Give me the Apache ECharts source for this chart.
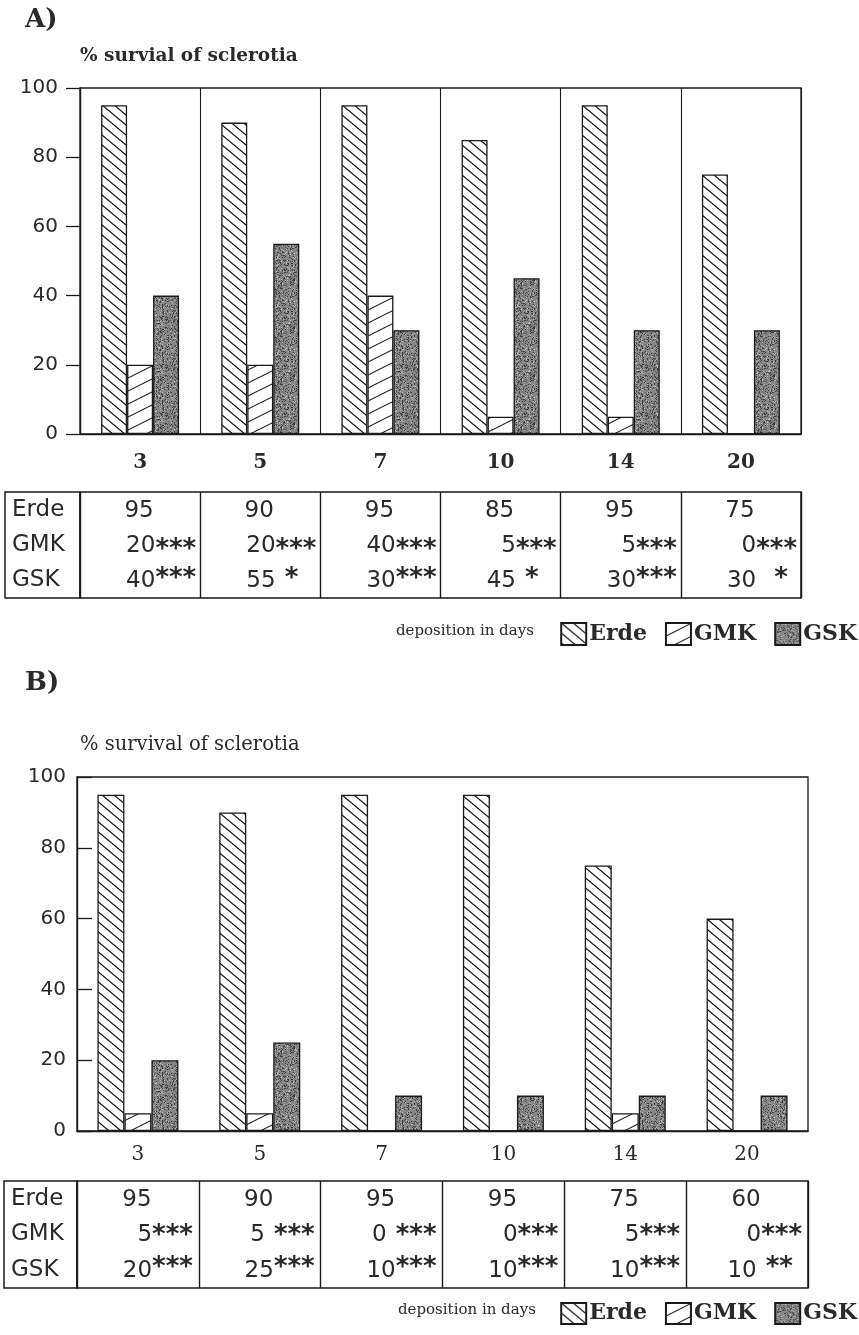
<!DOCTYPE html>
<html>
<head>
<meta charset="utf-8">
<script src="https://cdn.jsdelivr.net/npm/echarts@6/dist/echarts.min.js"></script>
<style>
html,body{margin:0;padding:0;background:#fff;}
#chart{width:859px;height:1335px;}
</style>
</head>
<body>
<div id="chart"></div>
<script>
// ---------------- data ----------------
const categories = ['3', '5', '7', '10', '14', '20'];
const rowNames = ['Erde', 'GMK', 'GSK'];
const yTickMin = 0, yTickMax = 100, yTickStep = 20;

const erdeA = [95, 90, 95, 85, 95, 75];
const gmkA  = [20, 20, 40, 5, 5, 0];
const gskA  = [40, 55, 30, 45, 30, 30];
const gmkSigA = ['***', '***', '***', '***', '***', '***'];
const gskSigA = ['***', ' *  ', '***', ' *  ', '***', '  * '];

const erdeB = [95, 90, 95, 95, 75, 60];
const gmkB  = [5, 5, 0, 0, 5, 0];
const gskB  = [20, 25, 10, 10, 10, 10];
const gmkSigB = ['***', ' ***', ' ***', '***', '***', '***'];
const gskSigB = ['***', '***', '***', '***', '***', ' ** '];

// ---------------- patterns ----------------
function hatch(w, h, dir, lw) {
  const c = document.createElement('canvas');
  c.width = w; c.height = h;
  const ctx = c.getContext('2d');
  ctx.fillStyle = '#ffffff';
  ctx.fillRect(0, 0, w, h);
  ctx.strokeStyle = '#151515';
  ctx.lineWidth = lw;
  for (const x0 of [-w, 0, w]) {
    ctx.beginPath();
    if (dir === 'back') {
      ctx.moveTo(x0 - w, -h); ctx.lineTo(x0 + 2 * w, 2 * h);
    } else {
      ctx.moveTo(x0 - w, 2 * h); ctx.lineTo(x0 + 2 * w, -h);
    }
    ctx.stroke();
  }
  return c;
}
function speckle(base) {
  const s = 48;
  const c = document.createElement('canvas');
  c.width = s; c.height = s;
  const ctx = c.getContext('2d');
  ctx.fillStyle = base;
  ctx.fillRect(0, 0, s, s);
  let seed = 12345;
  const next = () => { seed = (seed * 1103515245 + 12345) & 0x7fffffff; return seed / 0x7fffffff; };
  for (let i = 0; i < 1000; i++) {
    const x = Math.floor(next() * s), y = Math.floor(next() * s);
    const t = next();
    ctx.fillStyle = t < 0.45 ? '#3e3e3e' : (t < 0.7 ? '#5e5e5e' : '#b8b8b8');
    ctx.fillRect(x, y, 1, 1);
  }
  return c;
}
const erdePat = { image: hatch(12, 10, 'back', 1.3), repeat: 'repeat' };
const gmkPat  = { image: hatch(26, 13, 'fwd', 1.1), repeat: 'repeat' };
const gskPat  = { image: speckle('#878787'), repeat: 'repeat' };

// ---------------- helpers ----------------
const ink = '#1a1a1a';
const txt = '#2a2a2a';
const tableFont = '"DejaVu Sans"';
const tableSize = 23;
const starSize = 26;
const measureCtx = document.createElement('canvas').getContext('2d');
measureCtx.font = 'bold ' + starSize + 'px ' + tableFont;
function textW(s) { return measureCtx.measureText(s).width; }

function tableCells(erde, gmk, gsk, gmkSig, gskSig) {
  const d = [];
  categories.forEach((c, i) => {
    d.push({ pos: [i, 0], num: String(erde[i]), sig: '' });
    d.push({ pos: [i, 1], num: String(gmk[i]), sig: gmkSig[i] });
    d.push({ pos: [i, 2], num: String(gsk[i]), sig: gskSig[i] });
  });
  return d;
}
const cellsA = tableCells(erdeA, gmkA, gskA, gmkSigA, gskSigA);
const cellsB = tableCells(erdeB, gmkB, gskB, gmkSigB, gskSigB);

function tableRenderer(cells, pad, starDy) {
  return function (params, api) {
    const cell = cells[params.dataIndex];
    const i = api.value(0), r = api.value(1);
    const p = api.coord([i, r]);
    const bw = api.size([1, 0])[0];
    const font = tableSize + 'px ' + tableFont;
    if (r === 0) {
      return { type: 'text', style: { text: cell.num, x: p[0] - 1, y: p[1] + 1, align: 'center', verticalAlign: 'middle', font: font, fill: txt } };
    }
    const right = p[0] + bw / 2 - pad;
    const sw = textW(cell.sig);
    return {
      type: 'group',
      children: [
        { type: 'text', style: { text: cell.num, x: right - sw, y: p[1] + 1, align: 'right', verticalAlign: 'middle', font: font, fill: txt } },
        { type: 'text', style: { text: cell.sig, x: right, y: p[1] + 1 + starDy[r], align: 'right', verticalAlign: 'middle', font: 'bold ' + starSize + 'px ' + tableFont, fill: txt } }
      ]
    };
  };
}

const barStyle = (pat) => ({ color: pat, borderColor: ink, borderWidth: 1.3 });

const chart = echarts.init(document.getElementById('chart'), null, { renderer: 'canvas' });
const tableAxisX = (gi) => ({ type: 'category', gridIndex: gi, data: categories, axisLine: { show: false }, axisTick: { show: false }, axisLabel: { show: false }, splitLine: { show: true, lineStyle: { color: ink, width: 1.4 } } });
const tableAxisY = (gi) => ({ type: 'category', gridIndex: gi, data: rowNames, inverse: true, show: false });
const labelAxisY = (gi) => ({ type: 'category', gridIndex: gi, data: rowNames, inverse: true, axisLine: { show: false }, axisTick: { show: false }, splitLine: { show: false }, axisLabel: { inside: true, margin: 7, fontFamily: tableFont, fontSize: tableSize, color: txt, align: 'left' } });
const hiddenValueX = (gi) => ({ type: 'value', gridIndex: gi, show: false, splitLine: { show: false } });
const legendText = { fontFamily: 'DejaVu Serif', fontWeight: 'bold', fontSize: 22, color: txt, padding: [0, 0, 0, -2] };

const option = {
  backgroundColor: '#ffffff',
  animation: false,
  title: [
    { text: 'A)', left: 25, top: 7, padding: 0, textStyle: { fontFamily: 'DejaVu Serif', fontWeight: 'bold', fontSize: 26, color: txt } },
    { text: '% survial of sclerotia', left: 80, top: 47, padding: 0, textStyle: { fontFamily: 'DejaVu Serif', fontWeight: 'bold', fontSize: 18.5, color: txt } },
    { text: 'deposition in days', left: 396, top: 624, padding: 0, textStyle: { fontFamily: 'DejaVu Serif', fontWeight: 'normal', fontSize: 15, color: txt } },
    { text: 'B)', left: 25, top: 670, padding: 0, textStyle: { fontFamily: 'DejaVu Serif', fontWeight: 'bold', fontSize: 26, color: txt } },
    { text: '% survival of sclerotia', left: 80, top: 735, padding: 0, textStyle: { fontFamily: 'DejaVu Serif', fontWeight: 'normal', fontSize: 19.5, color: txt } },
    { text: 'deposition in days', left: 398, top: 1303, padding: 0, textStyle: { fontFamily: 'DejaVu Serif', fontWeight: 'normal', fontSize: 15, color: txt } }
  ],
  legend: [
    { data: rowNames, right: 2, top: 622, itemWidth: 25, itemHeight: 22, itemGap: 18, icon: 'rect', padding: 0, selectedMode: false, textStyle: legendText },
    { data: rowNames, right: 2, top: 1302, itemWidth: 25, itemHeight: 21, itemGap: 18, icon: 'rect', padding: 0, selectedMode: false, textStyle: legendText }
  ],
  grid: [
    { left: 80, right: 58, top: 88, height: 346, show: true, borderColor: ink, borderWidth: 1.3 },
    { left: 80, right: 58, top: 492, height: 106, show: true, borderColor: ink, borderWidth: 1.5 },
    { left: 5, width: 75, top: 492, height: 106, show: true, borderColor: ink, borderWidth: 1.5 },
    { left: 77, right: 51, top: 777, height: 354, show: true, borderColor: ink, borderWidth: 1.3 },
    { left: 77, right: 51, top: 1181, height: 107, show: true, borderColor: ink, borderWidth: 1.5 },
    { left: 4, width: 73, top: 1181, height: 107, show: true, borderColor: ink, borderWidth: 1.5 }
  ],
  xAxis: [
    { type: 'category', gridIndex: 0, data: categories,
      axisLine: { lineStyle: { color: ink, width: 1.4 } },
      axisTick: { alignWithLabel: true, length: 7, lineStyle: { color: ink, width: 1.3 } },
      axisLabel: { margin: 19, fontFamily: 'DejaVu Serif', fontWeight: 'bold', fontSize: 20, color: txt },
      splitLine: { show: true, lineStyle: { color: ink, width: 1.1 } } },
    tableAxisX(1),
    hiddenValueX(2),
    { type: 'category', gridIndex: 3, data: categories,
      axisLine: { lineStyle: { color: ink, width: 1.4 } },
      axisTick: { alignWithLabel: true, inside: true, length: 6, lineStyle: { color: ink, width: 1.2 } },
      axisLabel: { margin: 14, fontFamily: 'DejaVu Serif', fontSize: 20, color: txt },
      splitLine: { show: false } },
    tableAxisX(4),
    hiddenValueX(5)
  ],
  yAxis: [
    { type: 'value', gridIndex: 0, min: yTickMin, max: yTickMax, interval: yTickStep,
      axisLine: { show: true, lineStyle: { color: ink, width: 1.4 } },
      axisTick: { show: true, length: 14, lineStyle: { color: ink, width: 1.3 } },
      axisLabel: { margin: 22, fontFamily: 'DejaVu Sans', fontSize: 20, color: txt },
      splitLine: { show: false } },
    tableAxisY(1),
    labelAxisY(2),
    { type: 'value', gridIndex: 3, min: yTickMin, max: yTickMax, interval: yTickStep,
      axisLine: { show: true, lineStyle: { color: ink, width: 1.4 } },
      axisTick: { show: true, inside: true, length: 15, lineStyle: { color: ink, width: 1.3 } },
      axisLabel: { margin: 11, fontFamily: 'DejaVu Sans', fontSize: 20, color: txt },
      splitLine: { show: false } },
    tableAxisY(4),
    labelAxisY(5)
  ],
  series: [
    { name: 'Erde', type: 'bar', xAxisIndex: 0, yAxisIndex: 0, data: erdeA, barWidth: 26, barGap: '0%', itemStyle: barStyle(erdePat) },
    { name: 'GMK', type: 'bar', xAxisIndex: 0, yAxisIndex: 0, data: gmkA, barWidth: 26, barGap: '0%', itemStyle: barStyle(gmkPat) },
    { name: 'GSK', type: 'bar', xAxisIndex: 0, yAxisIndex: 0, data: gskA, barWidth: 26, barGap: '0%', itemStyle: barStyle(gskPat) },
    { type: 'custom', xAxisIndex: 1, yAxisIndex: 1, silent: true, clip: false, z: 10,
      data: cellsA.map(c => c.pos), renderItem: tableRenderer(cellsA, 4, [0, 4, -2]) },
    { name: 'Erde', type: 'bar', xAxisIndex: 3, yAxisIndex: 3, data: erdeB, barWidth: 27, barGap: '0%', itemStyle: barStyle(erdePat) },
    { name: 'GMK', type: 'bar', xAxisIndex: 3, yAxisIndex: 3, data: gmkB, barWidth: 27, barGap: '0%', itemStyle: barStyle(gmkPat) },
    { name: 'GSK', type: 'bar', xAxisIndex: 3, yAxisIndex: 3, data: gskB, barWidth: 27, barGap: '0%', itemStyle: barStyle(gskPat) },
    { type: 'custom', xAxisIndex: 4, yAxisIndex: 4, silent: true, clip: false, z: 10,
      data: cellsB.map(c => c.pos), renderItem: tableRenderer(cellsB, 6, [0, 1, -3]) }
  ]
};
chart.setOption(option);
</script>
</body>
</html>
